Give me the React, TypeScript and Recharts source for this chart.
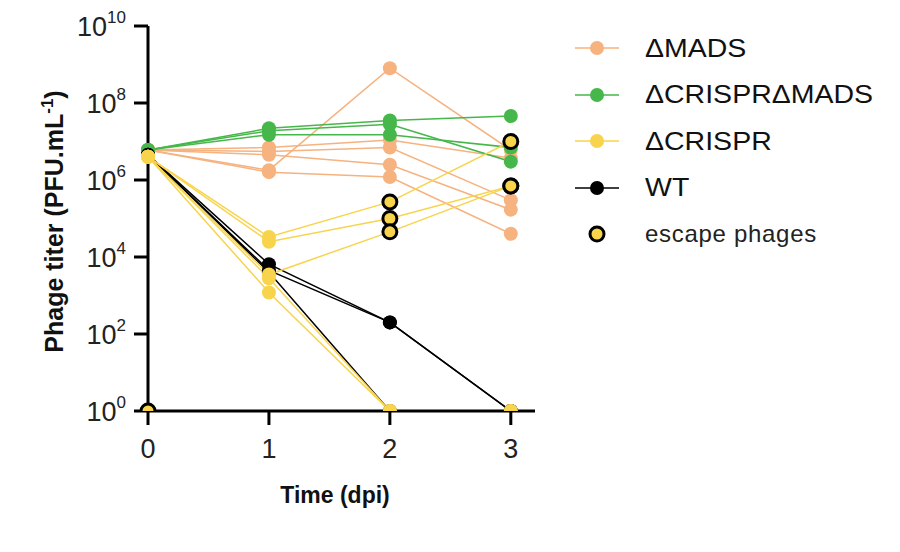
import { Legend, Line, LineChart, XAxis, YAxis } from 'recharts';

const times = [0, 1, 2, 3];

// ΔMADS replicates
const mads1 = [6e6, 1.8e6, 8e8, 6e6];
const mads2 = [6e6, 7e6, 1.1e7, 3.7e6];
const mads3 = [6e6, 5.5e6, 7e6, 3e5];
const mads4 = [6e6, 4.5e6, 2.5e6, 1.7e5];
const mads5 = [6e6, 1.6e6, 1.2e6, 4e4];

// ΔCRISPRΔMADS replicates
const dbl1 = [6e6, 2.2e7, 3.5e7, 4.6e7];
const dbl2 = [6e6, 1.9e7, 2.8e7, 3e6];
const dbl3 = [6e6, 1.5e7, 1.5e7, 7e6];

// ΔCRISPR replicates
const cr1 = [4e6, 3.3e4, 2.7e5, 1e7];
const cr2 = [4e6, 2.5e4, 1e5, 7e5];
const cr3 = [4e6, 3.5e3, 4.5e4, 7e5];
const cr4 = [4e6, 2.8e3, 1, 1];
const cr5 = [4e6, 1.2e3, 1, 1];
const crEscape0 = [1, null, null, null];

// WT replicates
const wt1 = [4.5e6, 6.5e3, 200, 1];
const wt2 = [4.5e6, 4.5e3, 200, 1];
const wt3 = [4.5e6, 4e3, 1, 1];

// escape phage flags per time point
const noEscape = [false, false, false, false];
const lateEscape = [false, false, true, true];
const firstEscape = [true, false, false, false];

const yTicks = [1, 1e2, 1e4, 1e6, 1e8, 1e10];
const xTicks = [0, 1, 2, 3];

const ORANGE = '#F6B27F';
const GREEN = '#46B74A';
const YELLOW = '#F8D44C';
const BLACK = '#000000';

const series = [
    { key: 'mads1', values: mads1, color: ORANGE, escape: noEscape },
    { key: 'mads2', values: mads2, color: ORANGE, escape: noEscape },
    { key: 'mads3', values: mads3, color: ORANGE, escape: noEscape },
    { key: 'mads4', values: mads4, color: ORANGE, escape: noEscape },
    { key: 'mads5', values: mads5, color: ORANGE, escape: noEscape },
    { key: 'dbl1', values: dbl1, color: GREEN, escape: noEscape },
    { key: 'dbl2', values: dbl2, color: GREEN, escape: noEscape },
    { key: 'dbl3', values: dbl3, color: GREEN, escape: noEscape },
    { key: 'wt1', values: wt1, color: BLACK, escape: noEscape },
    { key: 'wt2', values: wt2, color: BLACK, escape: noEscape },
    { key: 'wt3', values: wt3, color: BLACK, escape: noEscape },
    { key: 'cr4', values: cr4, color: YELLOW, escape: noEscape },
    { key: 'cr5', values: cr5, color: YELLOW, escape: noEscape },
    { key: 'cr1', values: cr1, color: YELLOW, escape: lateEscape },
    { key: 'cr2', values: cr2, color: YELLOW, escape: lateEscape },
    { key: 'cr3', values: cr3, color: YELLOW, escape: lateEscape },
    { key: 'crEscape0', values: crEscape0, color: YELLOW, escape: firstEscape },
];

const data = times.map((t, i) => {
    const row: Record<string, number | null> = { t };
    series.forEach(s => { row[s.key] = s.values[i]; });
    return row;
});

const legendItems = [
    { name: 'ΔMADS', color: ORANGE },
    { name: 'ΔCRISPRΔMADS', color: GREEN },
    { name: 'ΔCRISPR', color: YELLOW },
    { name: 'WT', color: BLACK },
];

const FONT = '"Liberation Sans", Arial, Helvetica, sans-serif';

const makeDot = (color: string, escape: boolean[]) => (props: any) => {
    const { cx, cy, index, value } = props;
    if (value == null || cx == null || cy == null) return <g key={`d${index}`} />;
    if (escape[index]) {
        return <circle key={`d${index}`} cx={cx} cy={cy} r={7} fill={YELLOW} stroke="#000" strokeWidth={3} />;
    }
    return <circle key={`d${index}`} cx={cx} cy={cy} r={7} fill={color} stroke="none" />;
};

const YTick = (props: any) => {
    const { x, y, payload } = props;
    const exp = Math.round(Math.log10(payload.value));
    return (
        <text x={x - 6} y={y + 10} textAnchor="end" fontFamily={FONT} fill="#222">
            <tspan fontSize={27}>10</tspan>
            <tspan fontSize={17} dy={-13}>{exp}</tspan>
        </text>
    );
};

const XTick = (props: any) => {
    const { x, y, payload } = props;
    return (
        <text x={x} y={y + 31} textAnchor="middle" fontFamily={FONT} fontSize={27} fill="#222">
            {payload.value}
        </text>
    );
};

const YLabel = (props: any) => {
    const { viewBox } = props;
    const cx = 55;
    const cy = viewBox.y + viewBox.height / 2 + 3;
    return (
        <text transform={`translate(${cx},${cy}) rotate(-90)`} textAnchor="middle"
            fontFamily={FONT} fontWeight="bold" fontSize={25} fill="#111">
            <tspan>Phage titer (PFU.mL</tspan>
            <tspan fontSize={17} dy={-10}>-1</tspan>
            <tspan dy={10}>)</tspan>
        </text>
    );
};

const XLabel = (props: any) => {
    const { viewBox } = props;
    return (
        <text x={viewBox.x + 187} y={viewBox.y + 92} textAnchor="middle"
            fontFamily={FONT} fontWeight="bold" fontSize={23} fill="#111">
            Time (dpi)
        </text>
    );
};

const LegendBox = () => (
    <div style={{ fontFamily: FONT, color: '#111' }}>
        {legendItems.map(item => (
            <div key={item.name} style={{ display: 'flex', alignItems: 'center', height: 46.5 }}>
                <svg width={60} height={20}>
                    <line x1={0} y1={10} x2={44} y2={10} stroke={item.color} strokeWidth={1.5} />
                    <circle cx={22} cy={10} r={7} fill={item.color} />
                </svg>
                <span style={{
                    fontSize: 25, marginLeft: 10, display: 'inline-block',
                    transform: 'scaleX(1.14)', transformOrigin: 'left center', whiteSpace: 'nowrap',
                }}>{item.name}</span>
            </div>
        ))}
        <div style={{ display: 'flex', alignItems: 'center', height: 46.5 }}>
            <svg width={60} height={20}>
                <circle cx={22} cy={10} r={7} fill={YELLOW} stroke="#000" strokeWidth={3} />
            </svg>
            <span style={{ fontSize: 24, marginLeft: 10, letterSpacing: 0.7, color: '#222', whiteSpace: 'nowrap' }}>
                escape phages
            </span>
        </div>
    </div>
);

export default function App() {
    return (
        <LineChart width={892} height={544} data={data}
            margin={{ top: 18, right: 365, bottom: 81, left: 0 }}>
            <XAxis dataKey="t" type="number" domain={[0, 3.2]} ticks={xTicks}
                stroke="#000" strokeWidth={3} tickLine={{ stroke: '#000', strokeWidth: 3 }}
                tickSize={14} tick={<XTick />} height={60} label={<XLabel />} />
            <YAxis scale="log" domain={[1, 1e10]} ticks={yTicks} allowDataOverflow
                stroke="#000" strokeWidth={3} tickLine={{ stroke: '#000', strokeWidth: 3 }}
                tickSize={14} tick={<YTick />} width={140} label={<YLabel />} />
            <Legend layout="vertical" align="center" verticalAlign="middle"
                wrapperStyle={{ left: 567, top: 17, width: 320 }} content={<LegendBox />} />
            {series.map(s => (
                <Line key={s.key} dataKey={s.key} stroke={s.color} strokeWidth={1.5}
                    dot={makeDot(s.color, s.escape)} activeDot={false}
                    isAnimationActive={false} legendType="none" />
            ))}
        </LineChart>
    );
}
